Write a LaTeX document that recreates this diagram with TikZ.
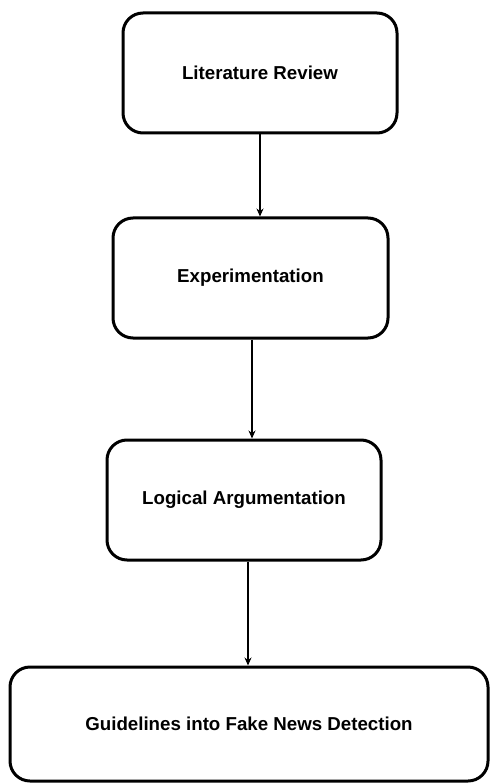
\documentclass[tikz,border=0pt]{standalone}
\usepackage{fontspec}
\setmainfont{Liberation Sans}
\usetikzlibrary{arrows.meta}
\begin{document}
\begin{tikzpicture}[x=1pt,y=-1pt,
  stagebox/.style={draw=black, line width=3pt, rounded corners=20pt,
    fill=white, inner sep=0pt, align=center,
    font=\fontsize{18.7}{22}\selectfont\bfseries},
  flow/.style={draw=black, line width=1.8pt,
    -{Stealth[length=8pt,width=7pt]}}]
  \useasboundingbox (0,0) rectangle (490,783);
  \fill[white] (0,0) rectangle (490,783);

  % process stages, top to bottom
  \node[stagebox, minimum width=274pt, minimum height=120pt] (lit)   at (260,73)    {Literature Review};
  \node[stagebox, minimum width=275pt, minimum height=120pt] (exp)   at (250.5,278) {Experimentation};
  \node[stagebox, minimum width=274pt, minimum height=120pt] (logic) at (244,500)   {Logical Argumentation};
  \node[stagebox, minimum width=478pt, minimum height=114pt] (guide) at (249,724)   {Guidelines into Fake News Detection};

  % connectors between consecutive stages
  \draw[flow] (lit.south) -- (lit.south |- exp.north);
  \draw[flow] ([xshift=1.5pt]exp.south) -- ([xshift=1.5pt]exp.south |- logic.north);
  \draw[flow] ([xshift=4pt]logic.south) -- ([xshift=4pt]logic.south |- guide.north);
\end{tikzpicture}
\end{document}
